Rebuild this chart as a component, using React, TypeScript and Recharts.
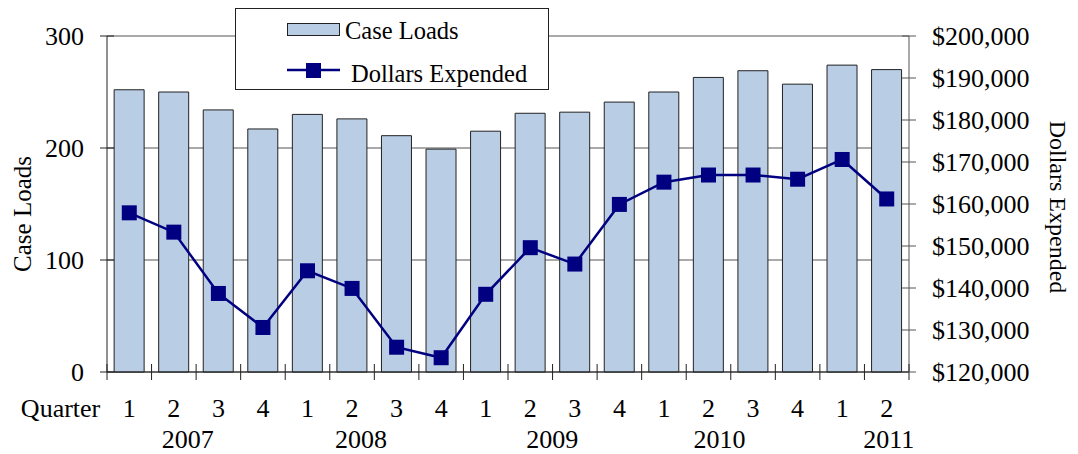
import React from 'react';
import { ComposedChart, Bar, Line, XAxis, YAxis, CartesianGrid, Legend, Label } from 'recharts';

const quarters = ['1', '2', '3', '4', '1', '2', '3', '4', '1', '2', '3', '4', '1', '2', '3', '4', '1', '2'];
const years = ['2007', '2007', '2007', '2007', '2008', '2008', '2008', '2008', '2009', '2009', '2009', '2009', '2010', '2010', '2010', '2010', '2011', '2011'];
const caseLoads = [252, 250, 234, 217, 230, 226, 211, 199, 215, 231, 232, 241, 250, 263, 269, 257, 274, 270];
const dollarsExpended = [157900, 153300, 138700, 130600, 144100, 139900, 125900, 123400, 138500, 149600, 145700, 159900, 165200, 166900, 166900, 165900, 170600, 161200];
const caseLoadTicks = [0, 100, 200, 300];
const dollarTicks = [120000, 130000, 140000, 150000, 160000, 170000, 180000, 190000, 200000];
const yearLabelTicks = [1, 5, 9, 13, 17];
const yearLabelDx = [14, 9, 22, 11, 2];

const FONT = '"Liberation Serif", "Times New Roman", Times, serif';
const TICK_FS = 26;
const TITLE_FS = 25;
const RIGHT_TITLE_FS = 24;
const LEGEND_FS = 24.5;
const BAR_FILL = '#B9CDE5';
const LINE_COLOR = '#000080';

const data = quarters.map((q, i) => ({
  key: `${years[i]}-Q${q}-${i}`,
  quarter: q,
  year: years[i],
  caseLoads: caseLoads[i],
  dollars: dollarsExpended[i],
}));

const fmtDollar = (v: number) => {
  const s = String(Math.round(v));
  return '$' + s.replace(/\B(?=(\d{3})+(?!\d))/g, ',');
};

const textStyle = (fs: number): React.CSSProperties => ({ fontFamily: FONT, fontSize: fs });

const XTick = (props: any) => {
  const { x, y, payload, index } = props;
  const half = payload && typeof payload.offset === 'number' && payload.offset > 0 ? payload.offset : 22.28;
  const i = typeof index === 'number' ? index : payload.index;
  const d = data[i];
  const yi = yearLabelTicks.indexOf(i);
  return (
    <g>
      <line x1={x - half} x2={x - half} y1={y - 8} y2={y + 8} stroke="#222" strokeWidth={1} />
      {i === data.length - 1 && (
        <line x1={x + half} x2={x + half} y1={y - 8} y2={y + 8} stroke="#222" strokeWidth={1} />
      )}
      <text x={x} y={y + 45} textAnchor="middle" style={textStyle(TICK_FS)} fill="#000">
        {d ? d.quarter : ''}
      </text>
      {i === 0 && (
        <text x={x - 29} y={y + 45} textAnchor="end" style={textStyle(TICK_FS)} fill="#000">
          Quarter
        </text>
      )}
      {yi >= 0 && d && (
        <text x={x + yearLabelDx[yi]} y={y + 76} textAnchor="middle" style={textStyle(TICK_FS)} fill="#000">
          {d.year}
        </text>
      )}
    </g>
  );
};

const LeftTick = (props: any) => {
  const { x, y, payload } = props;
  return (
    <g>
      <line x1={x - 7} x2={x + 7} y1={y} y2={y} stroke="#222" strokeWidth={1} />
      <text x={x - 23} y={y + 8.5} textAnchor="end" style={textStyle(TICK_FS)} fill="#000">
        {String(payload.value)}
      </text>
    </g>
  );
};

const RightTick = (props: any) => {
  const { x, y, payload } = props;
  return (
    <g>
      <line x1={x - 7} x2={x + 7} y1={y} y2={y} stroke="#555" strokeWidth={1} />
      <text x={x + 23} y={y + 8.5} textAnchor="start" style={textStyle(TICK_FS)} fill="#000">
        {fmtDollar(payload.value)}
      </text>
    </g>
  );
};

const Square = (props: any) => {
  const { cx, cy } = props;
  if (cx == null || cy == null) return null;
  return <rect x={cx - 7.5} y={cy - 7.5} width={15} height={15} fill={LINE_COLOR} />;
};

const LegendContent = () => (
  <svg width={314} height={82} style={{ display: 'block' }}>
    <rect x={0.5} y={0.5} width={313} height={81} fill="#fff" stroke="#222" strokeWidth={1} />
    <rect x={52.5} y={15.5} width={52} height={12} fill={BAR_FILL} stroke="#222" strokeWidth={1} />
    <text x={110} y={31} style={textStyle(LEGEND_FS)} fill="#000">Case Loads</text>
    <line x1={52} x2={105} y1={62} y2={62} stroke={LINE_COLOR} strokeWidth={2.5} />
    <rect x={71} y={55} width={15} height={15} fill={LINE_COLOR} />
    <text x={116} y={74} style={textStyle(LEGEND_FS)} fill="#000">Dollars Expended</text>
  </svg>
);

export default function App() {
  return (
    <div style={{ width: 1062, height: 446 }}>
      <ComposedChart
        width={1062}
        height={446}
        data={data}
        margin={{ top: 28, right: 0, bottom: 0, left: 0 }}
        barCategoryGap="16%"
      >
        <CartesianGrid yAxisId="left" horizontal={true} vertical={false} stroke="#555" strokeWidth={1} />
        <XAxis
          dataKey="key"
          height={82}
          interval={0}
          tickLine={false}
          tickSize={0}
          tickMargin={0}
          axisLine={{ stroke: '#222', strokeWidth: 1 }}
          tick={<XTick />}
        />
        <YAxis
          yAxisId="left"
          orientation="left"
          width={99}
          domain={[0, 300]}
          ticks={caseLoadTicks}
          interval={0}
          tickLine={false}
          tickSize={0}
          tickMargin={0}
          axisLine={{ stroke: '#222', strokeWidth: 1 }}
          tick={<LeftTick />}
        >
          <Label
            content={(p: any) => {
              const vb = p.viewBox || { x: 0, y: 28, width: 99, height: 336 };
              const cx = vb.x + 23;
              const cy = vb.y + vb.height / 2 + 10;
              return (
                <text x={cx} y={cy} transform={`rotate(-90, ${cx}, ${cy})`} textAnchor="middle" style={textStyle(TITLE_FS)} fill="#000">
                  Case Loads
                </text>
              );
            }}
          />
        </YAxis>
        <YAxis
          yAxisId="right"
          orientation="right"
          width={161}
          domain={[120000, 200000]}
          ticks={dollarTicks}
          interval={0}
          tickLine={false}
          tickSize={0}
          tickMargin={0}
          axisLine={{ stroke: '#555', strokeWidth: 1 }}
          tick={<RightTick />}
        >
          <Label
            content={(p: any) => {
              const vb = p.viewBox || { x: 901, y: 28, width: 161, height: 336 };
              const cx = vb.x + 141;
              const cy = vb.y + vb.height / 2 + 3;
              return (
                <text x={cx} y={cy} transform={`rotate(90, ${cx}, ${cy})`} textAnchor="middle" style={textStyle(RIGHT_TITLE_FS)} fill="#000">
                  Dollars Expended
                </text>
              );
            }}
          />
        </YAxis>
        <Bar
          yAxisId="left"
          dataKey="caseLoads"
          name="Case Loads"
          fill={BAR_FILL}
          stroke="#222"
          strokeWidth={1}
          isAnimationActive={false}
        />
        <Line
          yAxisId="right"
          dataKey="dollars"
          name="Dollars Expended"
          stroke={LINE_COLOR}
          strokeWidth={2.5}
          dot={<Square />}
          activeDot={false}
          isAnimationActive={false}
        />
        <Legend
          layout="vertical"
          align="center"
          verticalAlign="middle"
          content={<LegendContent />}
          wrapperStyle={{ position: 'absolute', left: 227, top: 0, width: 314, height: 82 }}
        />
      </ComposedChart>
    </div>
  );
}
